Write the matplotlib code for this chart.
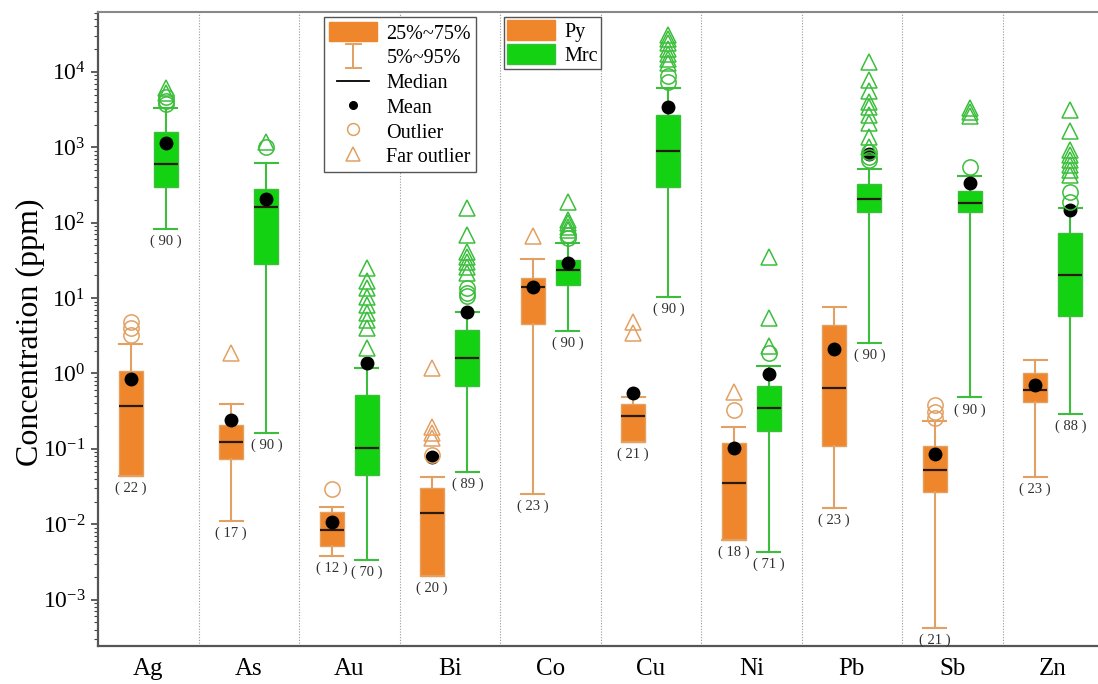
import matplotlib
matplotlib.use("Agg")
import matplotlib.pyplot as plt
from matplotlib.lines import Line2D
from matplotlib.patches import Patch
from matplotlib.legend_handler import HandlerBase
from matplotlib.ticker import FixedLocator, NullFormatter

# ---------------- data ----------------
elements = ['Ag', 'As', 'Au', 'Bi', 'Co', 'Cu', 'Ni', 'Pb', 'Sb', 'Zn']

py_q1 = [0.044, 0.073, 0.0052, 0.00206, 4.5, 0.125, 0.0062, 0.110, 0.027, 0.415]
py_q3 = [1.09, 0.21, 0.0144, 0.030, 18.6, 0.39, 0.121, 4.4, 0.110, 1.0]
py_med = [0.37, 0.122, 0.0084, 0.0143, 14.2, 0.275, 0.035, 0.65, 0.0525, 0.604]
py_mean = [0.85, 0.24, 0.0106, 0.079, 14.2, 0.546, 0.104, 2.09, 0.0855, 0.70]
py_whishi = [2.44, 0.39, 0.0171, 0.043, 33, 0.483, 0.193, 7.7, 0.237, 1.51]
py_whislo = [0.044, 0.011, 0.00384, 0.00206, 0.025, 0.125, 0.0062, 0.0166, 0.00042, 0.0428]
py_n = [22, 17, 12, 20, 23, 21, 18, 23, 21, 23]
py_outliers = [[4.8, 4.0, 3.2], [], [0.0294], [0.083], [], [], [0.328], [], [0.38, 0.31, 0.255], []]
py_far = [[], [1.85], [], [1.17, 0.197, 0.162, 0.139], [66.6], [4.86, 3.4], [0.563], [], [], []]

mrc_q1 = [296, 28.3, 0.045, 0.69, 14.9, 295, 0.174, 140, 140, 5.8]
mrc_q3 = [1585, 277, 0.52, 3.77, 32, 2680, 0.68, 326, 263, 72]
mrc_med = [596, 163, 0.102, 1.59, 23.6, 890, 0.345, 204, 181, 20.2]
mrc_mean = [1130, 204, 1.37, 6.6, 29.5, 3450, 0.985, 805, 333, 147]
mrc_whishi = [3350, 613, 1.19, 6.6, 54, 6050, 1.26, 518, 420, 155]
mrc_whislo = [82, 0.164, 0.00336, 0.05, 3.7, 10.4, 0.0043, 2.5, 0.48, 0.288]
mrc_n = [90, 90, 70, 89, 90, 90, 71, 90, 90, 88]
mrc_outliers = [[4700, 4100, 3700], [1000], [], [13.5, 11.7, 10.5], [69, 62],
                [8700, 7400], [1.85], [875, 750, 680], [550], [257, 190]]
mrc_far = [[6100, 5200], [1180], [25, 17, 13.5, 10.4, 8.1, 6.3, 5.1, 4.0, 2.2],
           [155, 69, 41, 35.5, 30.4, 26, 21.3], [190, 108, 98, 88, 80],
           [31000, 27000, 24000, 20000, 17000, 15000, 13000], [35.5, 5.4, 2.3],
           [13600, 7800, 5500, 4000, 3450, 2700, 2100, 1370, 1000],
           [3300, 2900, 2600], [3130, 1620, 920, 795, 680, 580, 500, 430]]

y_major = [1e-3, 1e-2, 1e-1, 1e0, 1e1, 1e2, 1e3, 1e4]

# ---------------- style ----------------
PY_FILL = '#F0862B'
PY_LINE = '#E2A062'
MRC_FILL = '#12D212'
MRC_LINE = '#3CBE3C'
MED_COL = '#2a1a0a'

plt.rcParams['font.family'] = ['Liberation Serif', 'DejaVu Serif']
plt.rcParams['mathtext.fontset'] = 'custom'
plt.rcParams['mathtext.rm'] = 'Liberation Serif'
plt.rcParams['mathtext.it'] = 'Liberation Serif:italic'
plt.rcParams['mathtext.bf'] = 'Liberation Serif:bold'

fig = plt.figure(figsize=(10.98, 6.84), dpi=100)
ax = fig.add_axes([0.0893, 0.0556, 0.9107, 0.9269])

OFF = 0.175
W = 0.24


def stats(q1, q3, med, mean, lo, hi):
    return [dict(q1=a, q3=b, med=c, mean=d, whislo=e, whishi=f, fliers=[])
            for a, b, c, d, e, f in zip(q1, q3, med, mean, lo, hi)]


def draw(group_stats, pos, fill, line):
    ax.bxp(group_stats, positions=pos, widths=W, capwidths=W * 0.95,
           patch_artist=True, showmeans=True, showfliers=False,
           boxprops=dict(facecolor=fill, edgecolor=line, linewidth=1.0),
           whiskerprops=dict(color=line, linewidth=1.5),
           capprops=dict(color=line, linewidth=1.5),
           medianprops=dict(color=MED_COL, linewidth=1.6),
           meanprops=dict(marker='o', markerfacecolor='black',
                          markeredgecolor='black', markersize=9),
           manage_ticks=False, zorder=3)


py_pos = [i - OFF for i in range(len(elements))]
mrc_pos = [i + OFF for i in range(len(elements))]

draw(stats(py_q1, py_q3, py_med, py_mean, py_whislo, py_whishi), py_pos, PY_FILL, PY_LINE)
draw(stats(mrc_q1, mrc_q3, mrc_med, mrc_mean, mrc_whislo, mrc_whishi), mrc_pos, MRC_FILL, MRC_LINE)

for pos, outs, fars, col in ((py_pos, py_outliers, py_far, PY_LINE),
                             (mrc_pos, mrc_outliers, mrc_far, MRC_LINE)):
    for x, o, f in zip(pos, outs, fars):
        if o:
            ax.plot([x] * len(o), o, linestyle='none', marker='o', markersize=11,
                    markerfacecolor='none', markeredgecolor=col, markeredgewidth=1.1, zorder=4)
        if f:
            ax.plot([x] * len(f), f, linestyle='none', marker='^', markersize=12,
                    markerfacecolor='none', markeredgecolor=col, markeredgewidth=1.1, zorder=4)

# sample counts
for pos, lo, ns in ((py_pos, py_whislo, py_n), (mrc_pos, mrc_whislo, mrc_n)):
    for x, y, n in zip(pos, lo, ns):
        ax.annotate('( %d )' % n, (x, y), xytext=(0, -4), textcoords='offset points',
                    ha='center', va='top', fontsize=10.5, color='#303030', zorder=5)

# separators
for k in range(len(elements) - 1):
    ax.axvline(k + 0.5, color='#999999', linewidth=0.8, linestyle=(0, (1, 1.5)), zorder=1)

ax.set_yscale('log')
ax.set_ylim(10 ** -3.614, 10 ** 4.794)
ax.set_xlim(-0.5, 9.45)
ax.set_xticks(range(len(elements)))
ax.set_xticklabels(elements)
ax.tick_params(axis='x', length=0, pad=9, labelsize=18)
ax.yaxis.set_major_locator(FixedLocator(y_major))
minor = [m * d for d in [1e-4] + y_major for m in range(2, 10)]
minor = [v for v in minor if 10 ** -3.614 <= v <= 10 ** 4.794]
ax.yaxis.set_minor_locator(FixedLocator(minor))
ax.yaxis.set_minor_formatter(NullFormatter())
ax.tick_params(axis='y', which='major', length=5, width=1.2, labelsize=17, pad=4, color='#444444')
ax.tick_params(axis='y', which='minor', length=3, width=0.8, color='#444444')
ax.set_ylabel('Concentration (ppm)', fontsize=23)
ax.yaxis.set_label_coords(-0.053, 0.495)

for s in ('left', 'bottom'):
    ax.spines[s].set_color('#555555')
    ax.spines[s].set_linewidth(1.6)
ax.spines['top'].set_color('#888888')
ax.spines['top'].set_linewidth(1.5)
ax.spines['right'].set_visible(False)


# ---------------- legends ----------------
class HandlerIBar(HandlerBase):
    def create_artists(self, legend, orig_handle, xdescent, ydescent, width, height, fontsize, trans):
        cx = width / 2 - xdescent
        y0 = -ydescent - 0.12 * height
        y1 = height - ydescent + 0.12 * height
        cw = 0.16 * width
        arts = [Line2D([cx, cx], [y0, y1]), Line2D([cx - cw, cx + cw], [y0, y0]),
                Line2D([cx - cw, cx + cw], [y1, y1])]
        for a in arts:
            a.set_color(PY_LINE)
            a.set_linewidth(1.4)
            a.set_transform(trans)
        return arts


class HandlerShortLine(HandlerBase):
    def create_artists(self, legend, orig_handle, xdescent, ydescent, width, height, fontsize, trans):
        cx = width / 2 - xdescent
        cy = height / 2 - ydescent
        hw = 0.33 * width
        ln = Line2D([cx - hw, cx + hw], [cy, cy], color='black', linewidth=1.3)
        ln.set_transform(trans)
        return [ln]


class IBarKey:
    pass


class MedKey:
    pass


h_box = Patch(facecolor=PY_FILL, edgecolor=PY_FILL)
h_whisk = IBarKey()
h_med = MedKey()
h_mean = Line2D([], [], linestyle='none', marker='o', markersize=5.5,
                markerfacecolor='black', markeredgecolor='black')
h_out = Line2D([], [], linestyle='none', marker='o', markersize=8.5,
               markerfacecolor='none', markeredgecolor=PY_LINE, markeredgewidth=1.1)
h_far = Line2D([], [], linestyle='none', marker='^', markersize=10,
               markerfacecolor='none', markeredgecolor=PY_LINE, markeredgewidth=1.1)

leg1 = ax.legend([h_box, h_whisk, h_med, h_mean, h_out, h_far],
                 ['25%~75%', '5%~95%', 'Median', 'Mean', 'Outlier', 'Far outlier'],
                 handler_map={IBarKey: HandlerIBar(), MedKey: HandlerShortLine()},
                 loc='upper left', bbox_to_anchor=(0.226, 0.992), borderaxespad=0,
                 fontsize=14.5, frameon=True, fancybox=False, framealpha=1,
                 edgecolor='#555555', borderpad=0.25, labelspacing=0.16,
                 handlelength=2.4, handleheight=1.1, handletextpad=0.45, numpoints=1)
leg1.get_frame().set_linewidth(1.0)
ax.add_artist(leg1)

leg2 = ax.legend([Patch(facecolor=PY_FILL, edgecolor=PY_FILL),
                  Patch(facecolor=MRC_FILL, edgecolor=MRC_LINE)],
                 ['Py', 'Mrc'], loc='upper left', bbox_to_anchor=(0.406, 0.992),
                 borderaxespad=0, fontsize=14.5, frameon=True, fancybox=False, framealpha=1,
                 edgecolor='#555555', borderpad=0.15, labelspacing=0.1,
                 handlelength=2.4, handleheight=1.15, handletextpad=0.45)
leg2.get_frame().set_linewidth(1.0)

fig.savefig('out.png', dpi=100)
